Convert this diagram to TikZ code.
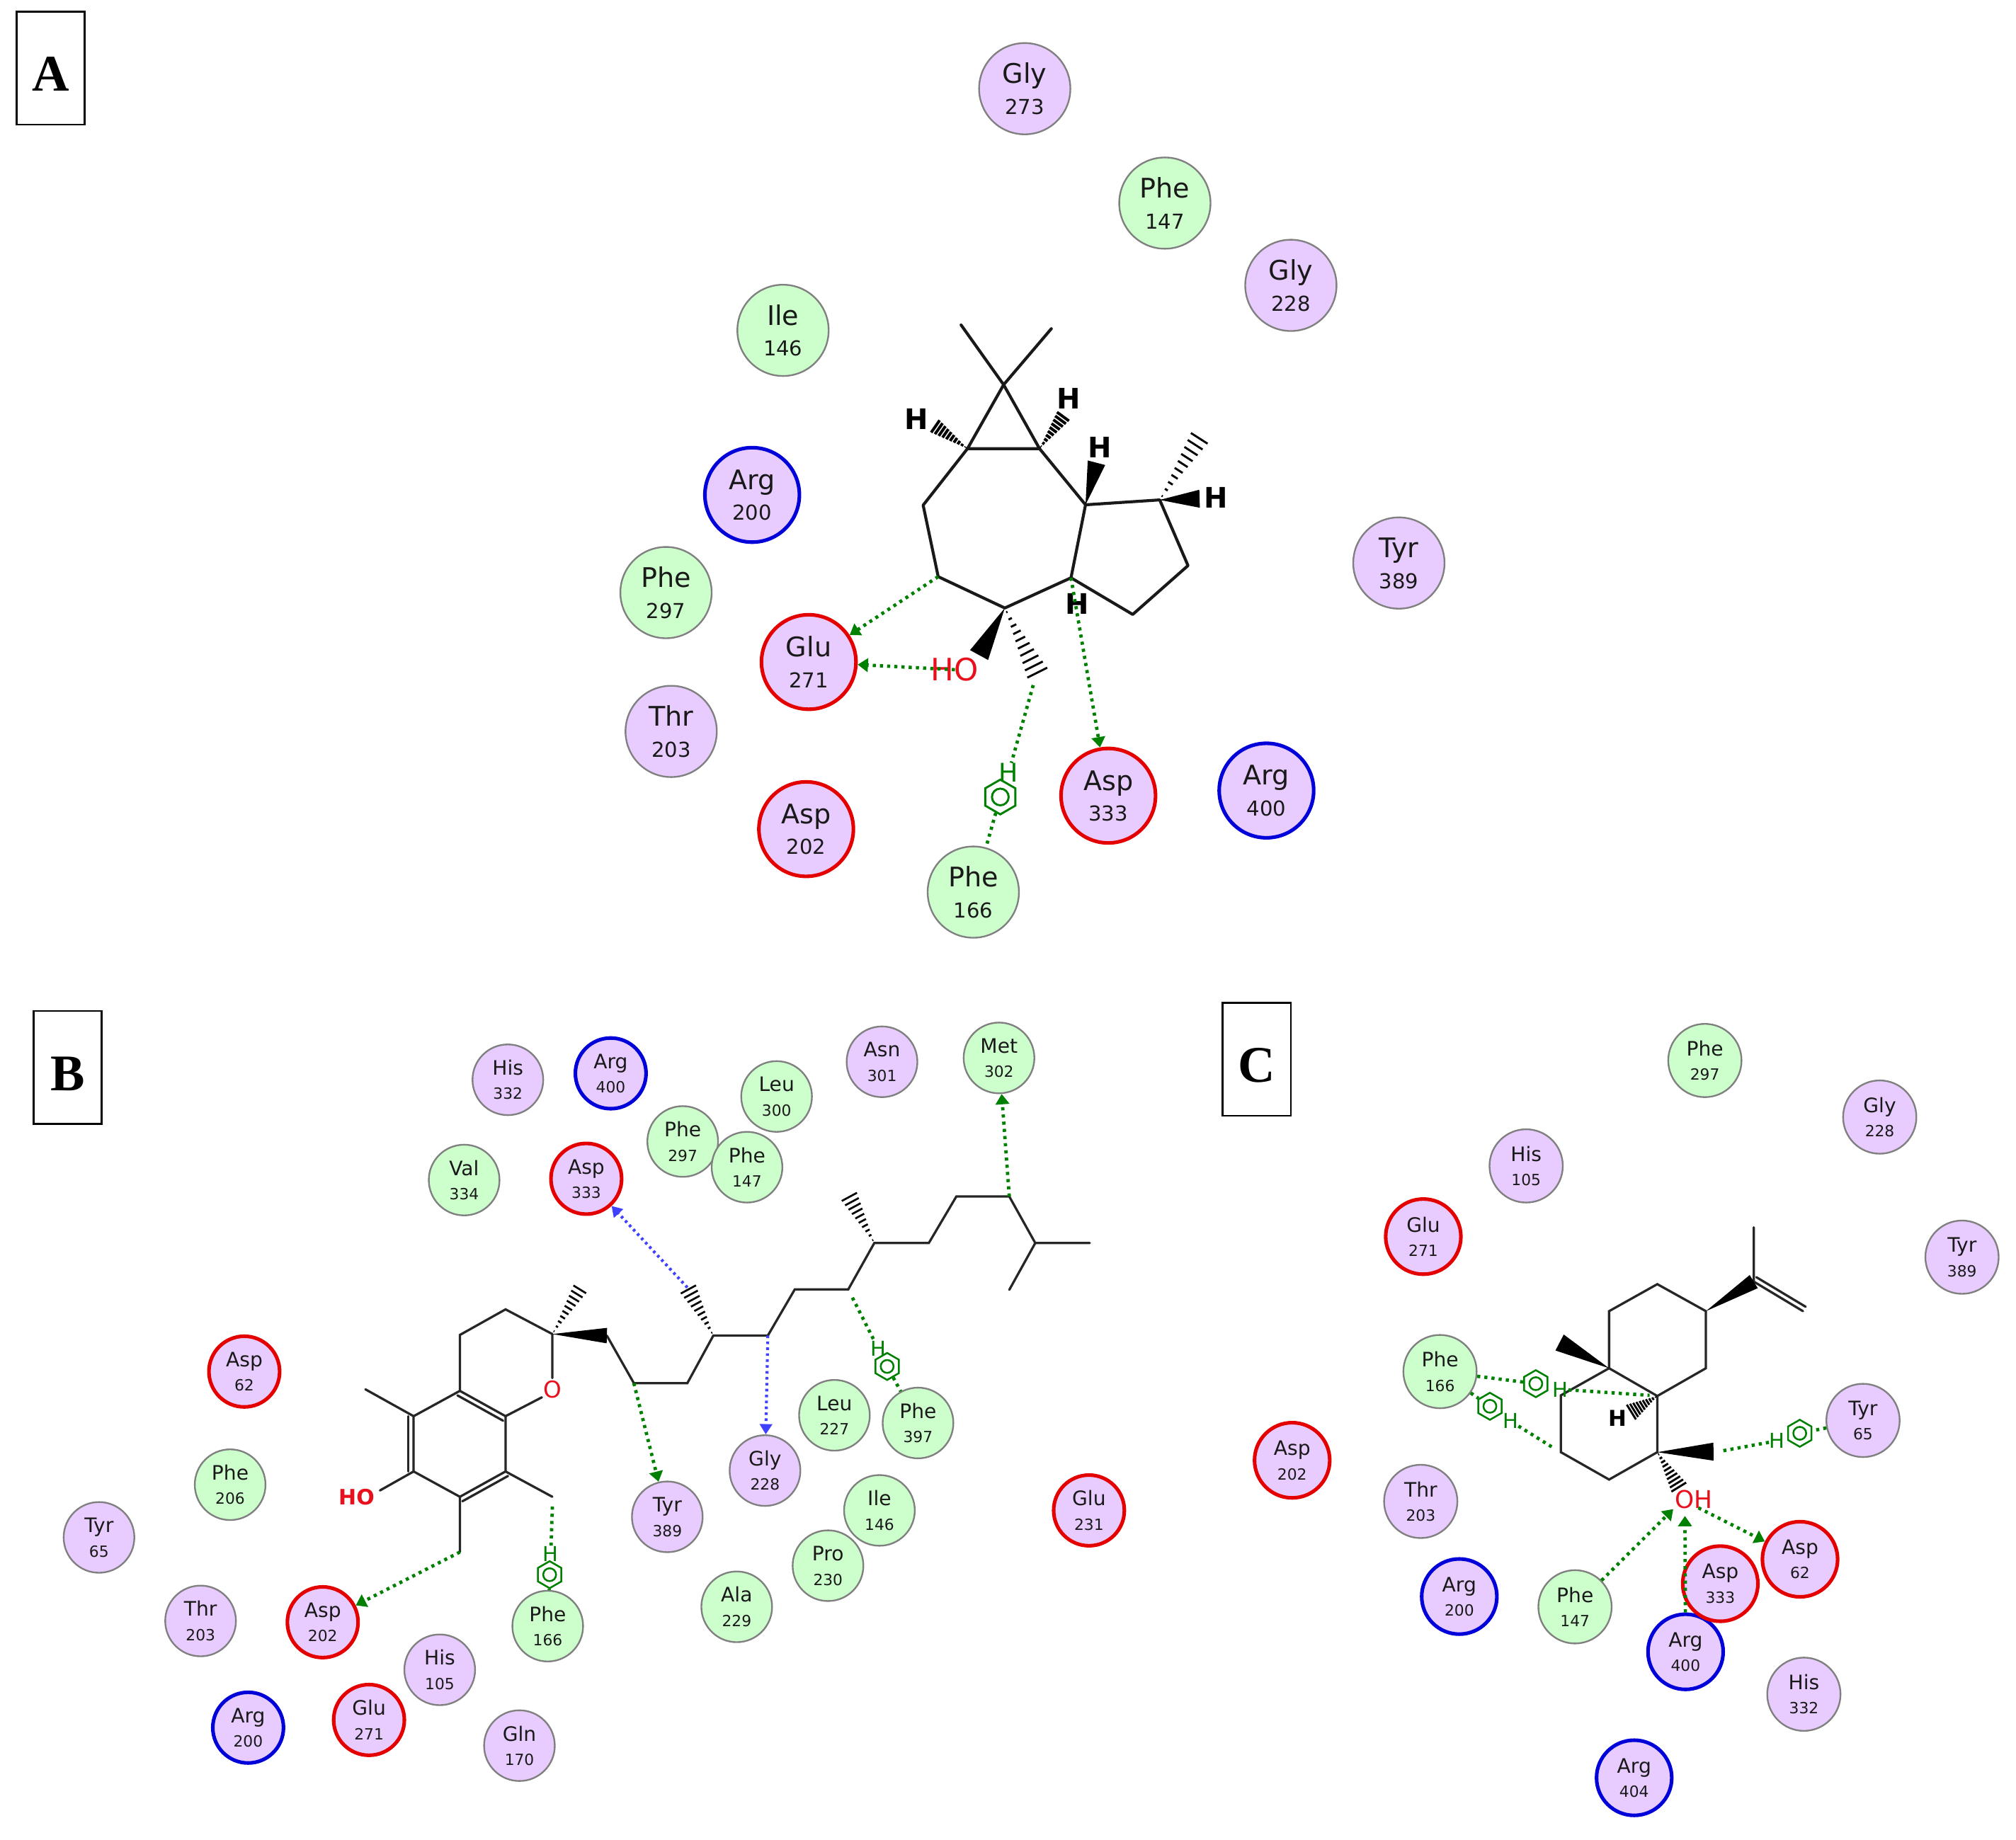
\documentclass[tikz,border=0pt]{standalone}
\usepackage{fontspec}
\setmainfont{DejaVu Sans}
\newfontfamily\panelfont{Liberation Serif}
\usetikzlibrary{calc,arrows.meta,shapes.geometric}
\definecolor{resgreenfill}{HTML}{CCFFCC}
\definecolor{respurplefill}{HTML}{E8CCFF}
\definecolor{hgreen}{HTML}{008000}
\definecolor{hblue}{HTML}{4040FF}
\definecolor{atomred}{HTML}{E8101C}
\newcommand\ra[2]{{\fontsize{21}{24}\selectfont #1\vphantom{Gy}}\\#2}
\newcommand\rs[2]{{\fontsize{15.5}{19}\selectfont #1\vphantom{Gy}}\\#2}
\newcommand\solidw[3]{\fill[black] (#1) -- ($(#2)!#3!90:(#1)$) -- ($(#2)!#3!-90:(#1)$) -- cycle;}
\newcommand\hashw[4]{\foreach \t in {0.06,0.16,...,1.0}{\pgfmathsetmacro\hw{#3*\t}\path ($(#1)!\t!(#2)$) coordinate (hm);\draw[line width=#4,black] ($(hm)!\hw pt!90:(#2)$) -- ($(hm)!\hw pt!-90:(#2)$);}}
\newcommand\dbl[3]{\draw[bondthin] ($(#1)!#3!90:(#2)$) -- ($(#2)!#3!-90:(#1)$);}
\tikzset{
 sizeA/.style={circle,inner sep=0pt,align=center,minimum size=71pt,text=black!90,font=\fontsize{16}{24}\selectfont},
 sizeB/.style={circle,inner sep=0pt,align=center,minimum size=55pt,text=black!90,font=\fontsize{12}{19}\selectfont},
 sizeC/.style={sizeB,minimum size=57pt},
 rgreen/.style={fill=resgreenfill,draw=black!50,line width=1.3pt},
 rpurple/.style={fill=respurplefill,draw=black!50,line width=1.3pt},
 rred/.style={fill=respurplefill,draw=red!90!black,line width=2.8pt},
 rblue/.style={fill=respurplefill,draw=blue!85!black,line width=2.8pt},
 ringA/.style={minimum size=73.5pt},
 ringC/.style={minimum size=58.5pt},
 bond/.style={line width=2.3pt,black!90,line join=round,line cap=round},
 bondthin/.style={line width=1.8pt,black!85,line cap=round},
 hbond/.style={hgreen,line width=2.6pt,dash pattern=on 2.4pt off 3.2pt},
 hbondarrow/.style={hbond,-{Triangle[length=8pt,width=10.5pt]}},
 bbondarrow/.style={hblue,line width=2.3pt,dash pattern=on 2pt off 2.6pt,-{Triangle[length=8pt,width=9.5pt]}},
 pibig/.style={regular polygon,regular polygon sides=6,shape border rotate=90,inner sep=0pt,draw=hgreen,line width=1.6pt,minimum size=27pt,path picture={\draw[hgreen,line width=1.6pt] (path picture bounding box.center) circle (6.5pt);}},
 pismall/.style={pibig,minimum size=21pt,line width=1.4pt,path picture={\draw[hgreen,line width=1.4pt] (path picture bounding box.center) circle (5pt);}},
 hlabA/.style={inner sep=0pt,font=\fontsize{22}{22}\selectfont\bfseries,text=black},
 hlabC/.style={inner sep=0pt,font=\fontsize{17}{17}\selectfont\bfseries,text=black},
 hgA/.style={inner sep=0pt,font=\fontsize{20}{20}\selectfont,text=hgreen},
 hgS/.style={inner sep=0pt,font=\fontsize{16}{16}\selectfont,text=hgreen},
 panelbox/.style={draw=black,line width=1.5pt,fill=white,minimum width=53pt,minimum height=88pt,inner sep=0pt,text height=36pt,text depth=0pt,font=\panelfont\fontsize{40}{40}\selectfont\bfseries},
}
\begin{document}
\begin{tikzpicture}[x=1pt,y=-1pt]
\useasboundingbox[fill=white] (0,0) rectangle (1568,1431);
% panel labels
\node[panelbox] (boxA) at (39.5,53) {A};
\node[panelbox] (boxB) at (52.5,830.5) {B};
\node[panelbox] (boxC) at (977.5,824) {C};
% ---------- panel A residues
\node[sizeA,rpurple] (aGly273) at (797,69) {\ra{Gly}{273}};
\node[sizeA,rgreen] (aPhe147) at (906,158) {\ra{Phe}{147}};
\node[sizeA,rpurple] (aGly228) at (1004,222) {\ra{Gly}{228}};
\node[sizeA,rgreen] (aIle146) at (609,257) {\ra{Ile}{146}};
\node[sizeA,rblue,ringA] (aArg200) at (585,385) {\ra{Arg}{200}};
\node[sizeA,rgreen] (aPhe297) at (518,461) {\ra{Phe}{297}};
\node[sizeA,rred,ringA] (aGlu271) at (629,515) {\ra{Glu}{271}};
\node[sizeA,rpurple] (aThr203) at (522,569) {\ra{Thr}{203}};
\node[sizeA,rred,ringA] (aAsp202) at (627,645) {\ra{Asp}{202}};
\node[sizeA,rred,ringA] (aAsp333) at (862,619) {\ra{Asp}{333}};
\node[sizeA,rblue,ringA] (aArg400) at (985,615) {\ra{Arg}{400}};
\node[sizeA,rpurple] (aTyr389) at (1088,438) {\ra{Tyr}{389}};
\node[sizeA,rgreen] (aPhe166) at (757,694) {\ra{Phe}{166}};
% panel A molecule
\coordinate (a1) at (780.6,299.3);
\coordinate (a2) at (747.5,252.8);
\coordinate (a3) at (817.7,255.7);
\coordinate (a4) at (752.5,349);
\coordinate (a5) at (808.5,349);
\coordinate (a6) at (718,393);
\coordinate (a7) at (729.7,448.6);
\coordinate (a8) at (781.5,473);
\coordinate (a9) at (833,449.5);
\coordinate (a10) at (844.3,392.7);
\coordinate (a11) at (902,388.9);
\coordinate (a12) at (924,440);
\coordinate (a13) at (881,478);
\coordinate (a14) at (726.5,331);
\coordinate (a15) at (827.5,323);
\coordinate (a16) at (852.8,360);
\coordinate (a17) at (933,388);
\coordinate (a18) at (934,339);
\coordinate (a19) at (761.5,509.6);
\coordinate (a20) at (807.8,525.4);
\coordinate (a21) at (803.6,533);
\draw[bond] (a2) -- (a1) -- (a3) (a1) -- (a4) -- (a5) -- (a1);
\draw[bond] (a4) -- (a6) -- (a7) -- (a8) -- (a9) -- (a10) -- (a5);
\draw[bond] (a10) -- (a11) -- (a12) -- (a13) -- (a9);
\hashw{a4}{a14}{6}{2.2pt}
\hashw{a5}{a15}{6}{2.2pt}
\solidw{a10}{a16}{7pt}
\solidw{a11}{a17}{7pt}
\hashw{a11}{a18}{8}{1.6pt}
\solidw{a8}{a19}{8pt}
\hashw{a8}{a20}{9}{1.6pt}
\node[hlabA] (aH1) at (713,326) {H};
\node[hlabA] (aH2) at (831,310) {H};
\node[hlabA] (aH3) at (855.6,348) {H};
\node[hlabA] (aH4) at (946,387) {H};
\node[hlabA] (aH5) at (838,470) {H};
\node[inner sep=0pt,font=\fontsize{24}{24}\selectfont,text=atomred] (aHO) at (742.7,521) {HO};
\draw[hbondarrow] (a7) -- (aGlu271);
\draw[hbondarrow] (aHO.center) -- (aGlu271);
\draw[hbondarrow] (a9) -- (aAsp333);
\node[hgA] (aHg) at (784.5,601) {H};
\node[pibig] (aPi) at (778,620) {};
\draw[hbond] (a21) -- (aHg);
\draw[hbond] (aPi) -- (aPhe166);
% ---------- panel B residues
\node[sizeB,rpurple] (bHis332) at (395,840) {\rs{His}{332}};
\node[sizeB,rblue] (bArg400) at (475,835) {\rs{Arg}{400}};
\node[sizeB,rpurple] (bAsn301) at (686,826) {\rs{Asn}{301}};
\node[sizeB,rgreen] (bLeu300) at (604,853) {\rs{Leu}{300}};
\node[sizeB,rgreen] (bMet302) at (777,823) {\rs{Met}{302}};
\node[sizeB,rgreen] (bPhe297) at (531,888) {\rs{Phe}{297}};
\node[sizeB,rgreen] (bPhe147) at (581,908) {\rs{Phe}{147}};
\node[sizeB,rgreen] (bVal334) at (361,918) {\rs{Val}{334}};
\node[sizeB,rred] (bAsp333) at (456,917) {\rs{Asp}{333}};
\node[sizeB,rred] (bAsp62) at (190,1067) {\rs{Asp}{62}};
\node[sizeB,rgreen] (bLeu227) at (649,1101) {\rs{Leu}{227}};
\node[sizeB,rgreen] (bPhe397) at (714,1107) {\rs{Phe}{397}};
\node[sizeB,rgreen] (bPhe206) at (179,1155) {\rs{Phe}{206}};
\node[sizeB,rpurple] (bGly228) at (595,1144) {\rs{Gly}{228}};
\node[sizeB,rgreen] (bIle146) at (684,1175) {\rs{Ile}{146}};
\node[sizeB,rred] (bGlu231) at (847,1175) {\rs{Glu}{231}};
\node[sizeB,rpurple] (bTyr389) at (519,1180) {\rs{Tyr}{389}};
\node[sizeB,rpurple] (bTyr65) at (77,1196) {\rs{Tyr}{65}};
\node[sizeB,rgreen] (bPro230) at (644,1218) {\rs{Pro}{230}};
\node[sizeB,rgreen] (bAla229) at (573,1250) {\rs{Ala}{229}};
\node[sizeB,rpurple] (bThr203) at (156,1261) {\rs{Thr}{203}};
\node[sizeB,rred] (bAsp202) at (251,1262) {\rs{Asp}{202}};
\node[sizeB,rgreen] (bPhe166) at (426,1265) {\rs{Phe}{166}};
\node[sizeB,rpurple] (bHis105) at (342,1299) {\rs{His}{105}};
\node[sizeB,rblue] (bArg200) at (193,1344) {\rs{Arg}{200}};
\node[sizeB,rred] (bGlu271) at (287,1338) {\rs{Glu}{271}};
\node[sizeB,rpurple] (bGln170) at (404,1358) {\rs{Gln}{170}};
% panel B molecule
\coordinate (b1) at (429.6,1037.8);
\coordinate (b2) at (451.8,1001.6);
\coordinate (b3) at (472,1039);
\coordinate (b4) at (493,1076);
\coordinate (b5) at (534.6,1076);
\coordinate (b6) at (554.8,1039);
\coordinate (b7) at (534.6,1001.6);
\coordinate (b8) at (597.2,1039);
\coordinate (b9) at (618.2,1003);
\coordinate (b10) at (659.8,1003);
\coordinate (b11) at (680,967);
\coordinate (b12) at (659.8,929.6);
\coordinate (b13) at (722.4,967);
\coordinate (b14) at (743.8,930.8);
\coordinate (b15) at (785,930.8);
\coordinate (b16) at (805.2,967);
\coordinate (b17) at (847.6,967);
\coordinate (b18) at (785,1003.4);
\coordinate (b19) at (429.6,1072);
\coordinate (b20) at (421.5,1087);
\coordinate (b21) at (393.2,1101.7);
\coordinate (b22) at (357.7,1082);
\coordinate (b23) at (357.7,1038.5);
\coordinate (b24) at (393.2,1018.6);
\coordinate (b25) at (321.7,1101.7);
\coordinate (b26) at (284.2,1080.8);
\coordinate (b27) at (321.7,1144.7);
\coordinate (b28) at (357.7,1164.4);
\coordinate (b29) at (393.2,1144.7);
\coordinate (b30) at (295.5,1159.5);
\coordinate (b31) at (429.6,1164.4);
\coordinate (b32) at (357.7,1207.4);
\coordinate (b33) at (429.6,1172);
\coordinate (b34) at (663,1009.5);
\draw[bondthin] (b1) -- (b19) (b20) -- (b21) -- (b22) -- (b23) -- (b24) -- (b1);
\draw[bondthin] (b22) -- (b25) -- (b27) -- (b28) -- (b29) -- (b21);
\draw[bondthin] (b25) -- (b26) (b27) -- (b30) (b29) -- (b31) (b28) -- (b32);
\draw[bondthin] (b3) -- (b4) -- (b5) -- (b6) -- (b8) -- (b9) -- (b10) -- (b11) -- (b13) -- (b14) -- (b15) -- (b16) -- (b17) (b16) -- (b18);
\dbl{b22}{b21}{-4pt}
\dbl{b25}{b27}{-4pt}
\dbl{b28}{b29}{-4pt}
\solidw{b1}{b3}{6pt}
\hashw{b1}{b2}{6}{1.5pt}
\hashw{b6}{b7}{7}{1.5pt}
\hashw{b11}{b12}{7}{1.5pt}
\node[inner sep=0pt,font=\fontsize{18}{18}\selectfont,text=atomred] (bO) at (429.6,1080.8) {O};
\node[inner sep=0pt,font=\fontsize{16.5}{16.5}\selectfont\bfseries,text=atomred] (bHO) at (277.3,1164.4) {HO};
\draw[hbondarrow] (b32) -- (bAsp202);
\draw[hbondarrow] (b4) -- (bTyr389);
\draw[bbondarrow] (b8) -- (bGly228);
\draw[bbondarrow] (b7) -- (bAsp333);
\draw[hbondarrow] (b15) -- (bMet302);
\node[hgS] (bHg1) at (428.4,1209) {H};
\node[pismall] (bPi1) at (427.5,1225) {};
\draw[hbond] (b33) -- (bHg1);
\draw[hbond] (bPi1) -- (bPhe166);
\node[hgS] (bHg2) at (683,1049) {H};
\node[pismall] (bPi2) at (690,1063) {};
\draw[hbond] (b34) -- (bHg2);
\draw[hbond] (bPi2) -- (bPhe397);
% ---------- panel C residues
\node[sizeC,rgreen] (cPhe297) at (1326,825) {\rs{Phe}{297}};
\node[sizeC,rpurple] (cGly228) at (1462,869) {\rs{Gly}{228}};
\node[sizeC,rpurple] (cHis105) at (1187,907) {\rs{His}{105}};
\node[sizeC,rred,ringC] (cGlu271) at (1107,962) {\rs{Glu}{271}};
\node[sizeC,rpurple] (cTyr389) at (1526,978) {\rs{Tyr}{389}};
\node[sizeC,rgreen] (cPhe166) at (1120,1067) {\rs{Phe}{166}};
\node[sizeC,rpurple] (cTyr65) at (1449,1105) {\rs{Tyr}{65}};
\node[sizeC,rred,ringC] (cAsp202) at (1005,1136) {\rs{Asp}{202}};
\node[sizeC,rpurple] (cThr203) at (1105,1168) {\rs{Thr}{203}};
\node[sizeC,rgreen] (cPhe147) at (1225,1250) {\rs{Phe}{147}};
\node[sizeC,rblue,ringC] (cArg400) at (1311,1285) {\rs{Arg}{400}};
\node[sizeC,rred,ringC] (cAsp333) at (1338,1232) {\rs{Asp}{333}};
\node[sizeC,rred,ringC] (cAsp62) at (1400,1213) {\rs{Asp}{62}};
\node[sizeC,rblue,ringC] (cArg200) at (1135,1242) {\rs{Arg}{200}};
\node[sizeC,rpurple] (cHis332) at (1403,1318) {\rs{His}{332}};
\node[sizeC,rblue,ringC] (cArg404) at (1271,1383) {\rs{Arg}{404}};
% panel C molecule
\coordinate (c1) at (1364,997);
\coordinate (c2) at (1364,954.8);
\coordinate (c3) at (1402.3,1020);
\coordinate (c4) at (1326.8,1020);
\coordinate (c5) at (1289,999);
\coordinate (c6) at (1251.5,1020);
\coordinate (c7) at (1251.5,1064.4);
\coordinate (c8) at (1326.8,1064.4);
\coordinate (c9) at (1289,1086);
\coordinate (c10) at (1213,1044.4);
\coordinate (c11) at (1214,1085.5);
\coordinate (c12) at (1214,1129.7);
\coordinate (c13) at (1251.5,1151);
\coordinate (c14) at (1289,1129.7);
\coordinate (c15) at (1332.7,1129.3);
\coordinate (c16) at (1268,1099);
\coordinate (c17) at (1306.4,1158);
\coordinate (c18) at (1283,1085.5);
\coordinate (c19) at (1206.8,1125.5);
\coordinate (c20) at (1339.5,1128.7);
\coordinate (c21) at (1301.4,1174);
\coordinate (c22) at (1310.5,1179.3);
\coordinate (c23) at (1321,1173);
\draw[bondthin] (c2) -- (c1) (c1) -- (c3);
\draw[bondthin] (c4) -- (c5) -- (c6) -- (c7) -- (c9) -- (c8) -- (c4);
\draw[bondthin] (c7) -- (c11) -- (c12) -- (c13) -- (c14) -- (c9);
\dbl{c1}{c3}{4pt}
\solidw{c4}{c1}{6pt}
\solidw{c7}{c10}{7pt}
\solidw{c14}{c15}{7pt}
\hashw{c9}{c16}{7}{1.6pt}
\hashw{c14}{c17}{7}{1.6pt}
\node[hlabC] (cH1) at (1258.4,1103.4) {H};
\node[inner sep=0pt,font=\fontsize{19}{19}\selectfont,text=atomred] (cOH) at (1317.4,1166.6) {OH};
\draw[hbondarrow] (cPhe147) -- (c21);
\draw[hbondarrow] (cArg400) -- (c22);
\draw[hbondarrow] (c23) -- (cAsp62);
\node[pismall] (cPi1) at (1194.5,1076.4) {};
\node[hgS] (cHg1) at (1213.7,1080.8) {H};
\draw[hbond] (cPhe166) -- (cPi1);
\draw[hbond] (cHg1) -- (c18);
\node[pismall] (cPi2) at (1158.8,1094) {};
\node[hgS] (cHg2) at (1174.8,1105.5) {H};
\draw[hbond] (cPhe166) -- (cPi2);
\draw[hbond] (cHg2) -- (c19);
\node[pismall] (cPi3) at (1399.8,1115) {};
\node[hgS] (cHg3) at (1382,1120.9) {H};
\draw[hbond] (cTyr65) -- (cPi3);
\draw[hbond] (cHg3) -- (c20);
\end{tikzpicture}
\end{document}
